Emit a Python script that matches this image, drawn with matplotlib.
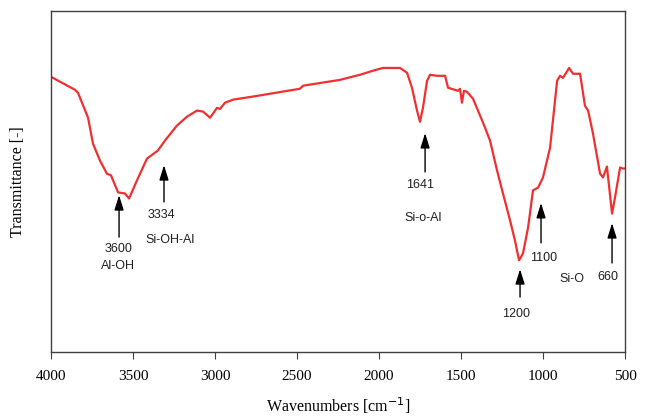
import matplotlib.pyplot as plt

# FTIR spectrum, wavenumber (cm-1) vs transmittance (arbitrary %)
wavenumber = [4000, 3854, 3835, 3774, 3744, 3701, 3659, 3634, 3591, 3549, 3524,
              3476, 3415, 3348, 3305, 3232, 3171, 3110, 3073, 3030, 2988, 2969,
              2939, 2890, 2744, 2482, 2463, 2238, 2116, 2036, 1976, 1872, 1829,
              1799, 1768, 1750, 1732, 1707, 1689, 1646, 1597, 1579, 1518, 1506,
              1494, 1482, 1463, 1427, 1366, 1323, 1280, 1244, 1201, 1171, 1146,
              1122, 1091, 1061, 1030, 1000, 957, 914, 896, 878, 841, 817, 774,
              744, 725, 695, 652, 634, 610, 603, 579, 561, 530, 512, 500]
transmittance = [80.7, 76.9, 76.0, 68.7, 61.1, 56.1, 52.3, 51.8, 46.8, 46.5, 45.0,
                 50.3, 56.7, 59.1, 62.0, 66.4, 69.0, 70.8, 70.5, 68.7, 71.6, 71.3,
                 73.1, 74.0, 75.1, 77.2, 78.1, 79.8, 81.3, 82.5, 83.3, 83.3, 81.9,
                 77.5, 70.8, 67.5, 71.6, 79.5, 81.3, 81.0, 81.0, 77.5, 76.6, 77.2,
                 73.1, 76.6, 76.3, 74.3, 67.3, 62.0, 53.2, 46.5, 38.6, 32.7, 26.9,
                 28.9, 36.5, 47.4, 48.2, 51.2, 59.9, 79.5, 81.0, 80.4, 83.3, 81.6,
                 81.6, 72.2, 70.8, 64.0, 52.3, 51.2, 54.4, 51.2, 40.6, 45.3, 54.1,
                 53.8, 53.8]

# arrows: (x, tip y, tail y)
arrows = [(3585, 46.0, 33.7), (3311, 54.8, 44.0), (1719, 64.2, 52.8),
          (1140, 24.3, 16.1), (1012, 43.7, 32.0), (579, 37.8, 26.1)]
# labels: (text, x, y)
labels = [("3600", 3591, 30.2), ("Al-OH", 3591, 25.2),
          ("3334", 3329, 40.2), ("Si-OH-Al", 3274, 32.8),
          ("1641", 1750, 49.0), ("Si-o-Al", 1732, 39.3),
          ("1200", 1164, 11.1), ("1100", 994, 27.6),
          ("Si-O", 823, 21.4), ("660", 603, 22.0)]

xticks = [4000, 3500, 3000, 2500, 2000, 1500, 1000, 500]

fig = plt.figure(figsize=(6.48, 4.18), dpi=100)
ax = fig.add_axes([51 / 648, 66 / 418, 574 / 648, 341 / 418])

ax.plot(wavenumber, transmittance, color='#f03030', lw=1.6)

for x, tip, tail in arrows:
    ax.annotate('', xy=(x, tip), xytext=(x, tail),
                arrowprops=dict(arrowstyle='-|>,head_width=0.28,head_length=0.9',
                                color='black', lw=1.0, shrinkA=0, shrinkB=0))
for txt, x, y in labels:
    ax.text(x, y, txt, ha='center', va='center', fontsize=9,
            family='Liberation Sans', color='#202020')

ax.set_xlim(4000, 500)
ax.set_ylim(0, 100)
ax.set_xticks(xticks)
ax.set_xticklabels([str(t) for t in xticks], family='Liberation Serif', fontsize=11)
ax.set_yticks([])
ax.tick_params(axis='x', direction='out', length=5, color='#404040', pad=8)
for s in ax.spines.values():
    s.set_color('#404040')
    s.set_linewidth(1.0)

ax.set_xlabel('Wavenumbers [cm$^{-1}$]', family='Liberation Serif', fontsize=11.5, labelpad=9)
ax.set_ylabel('Transmittance [-]', family='Liberation Serif', fontsize=11.5, labelpad=18)

fig.savefig('out.png', dpi=100)
